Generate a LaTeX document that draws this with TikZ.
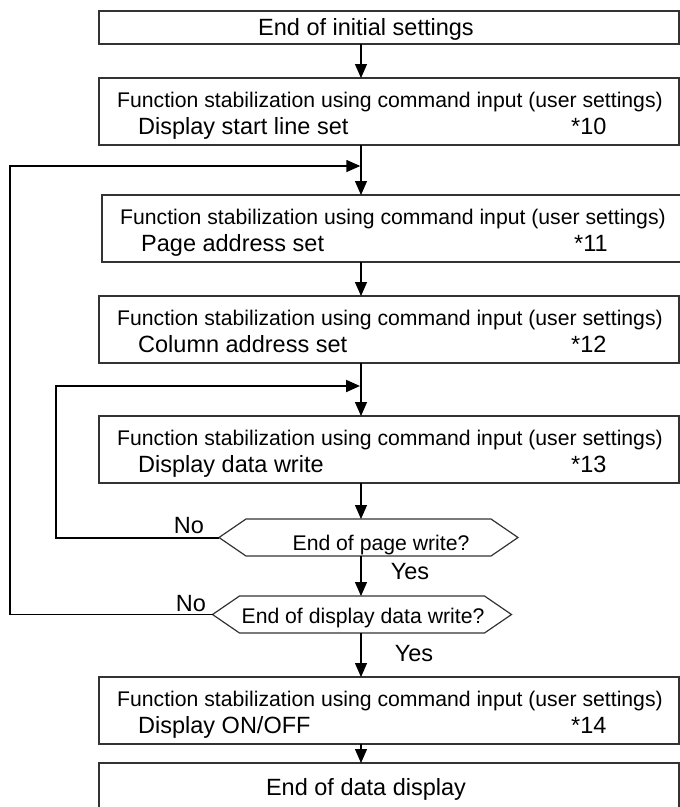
\documentclass[tikz,border=0pt]{standalone}
\usepackage{fontspec}
\setmainfont{Liberation Sans}
\usetikzlibrary{arrows.meta,calc}

\begin{document}
\begin{tikzpicture}[x=1pt,y=-1pt,
    box/.style={draw=black!80, line width=1.2pt, anchor=north west, inner sep=0pt, outer sep=0pt, minimum width=580pt},
    decision/.style={inner sep=0pt, outer sep=0pt, minimum width=299pt, minimum height=37pt},
    edge/.style={draw=black!80, line width=1.2pt},
    big/.style={font=\fontsize{23.5}{28}\selectfont, inner sep=0pt},
    small/.style={font=\fontsize{21.2}{25}\selectfont, inner sep=0pt},
    flow/.style={line width=1.3pt, -{Triangle[length=14pt,width=12pt]}}]
    \useasboundingbox (0,0) rectangle (680,807);
    \clip (0,0) rectangle (680,807);
    \coordinate (spine) at (361,0);
    \coordinate (outer) at (10,166);
    \coordinate (inner) at (56,386);

    \node[box, minimum height=33pt] (init) at (99,11) {};
    \node[big, anchor=base] (initt) at (366,35) {End of initial settings};

    % command boxes
    \foreach \n/\x/\y/\what/\num in {start/99/78/Display start line set/10, page/102/195/Page address set/11,
        column/99/296/Column address set/12, write/99/416/Display data write/13, onoff/99/677/{Display ON/OFF}/14}{
        \node[box, minimum height=67pt] (\n) at (\x,\y) {};
        \node[small, anchor=base west] (\n1) at ($(\n.north west)+(18,29)$) {Function stabilization using command input (user settings)};
        \node[big, anchor=base west] (\n2) at ($(\n.north west)+(39,56)$) {\what};
        \node[big, anchor=base west] (\n3) at ($(\n.north west)+(472,56)$) {*\num};
    }

    \node[decision] (pageend) at (368.5,537.5) {};
    \node[small, anchor=base] (pageendt) at (381,550) {End of page write?};
    \node[decision] (dataend) at (362,614.5) {};
    \node[small, anchor=base] (dataendt) at (363,623) {End of display data write?};
    \foreach \d in {pageend,dataend}
        \draw[edge] (\d.west) -- ([xshift=27pt]\d.north west) -- ([xshift=-27pt]\d.north east) -- (\d.east)
            -- ([xshift=-27pt]\d.south east) -- ([xshift=27pt]\d.south west) -- cycle;

    \node[big, anchor=base] (no1) at (189,533) {No};
    \node[big, anchor=base] (yes1) at (410,579) {Yes};
    \node[big, anchor=base] (no2) at (191,611) {No};
    \node[big, anchor=base] (yes2) at (414,661) {Yes};

    % last box runs off the bottom edge
    \node[box, minimum height=60pt] (done) at (99,763) {};
    \node[big, anchor=base] (donet) at (366,795) {End of data display};

    \draw[flow] (init.south -| spine) -- (start.north -| spine);
    \draw[flow] (start.south -| spine) -- (page.north -| spine);
    \draw[flow] (page.south -| spine) -- (column.north -| spine);
    \draw[flow] (column.south -| spine) -- (write.north -| spine);
    \draw[flow] (write.south -| spine) -- (pageend.north -| spine);
    \draw[flow] (pageend.south -| spine) -- (dataend.north -| spine);
    \draw[flow] (dataend.south -| spine) -- (onoff.north -| spine);
    \draw[flow] (onoff.south -| spine) -- (done.north -| spine);

    % loops back
    \draw[flow, line width=1.5pt, shorten >=0.7pt] (dataend.west) -| (outer) -- (outer -| spine);
    \draw[flow, line width=2pt, shorten >=1pt] (pageend.west) -| (inner) -- (inner -| spine);
\end{tikzpicture}
\end{document}
